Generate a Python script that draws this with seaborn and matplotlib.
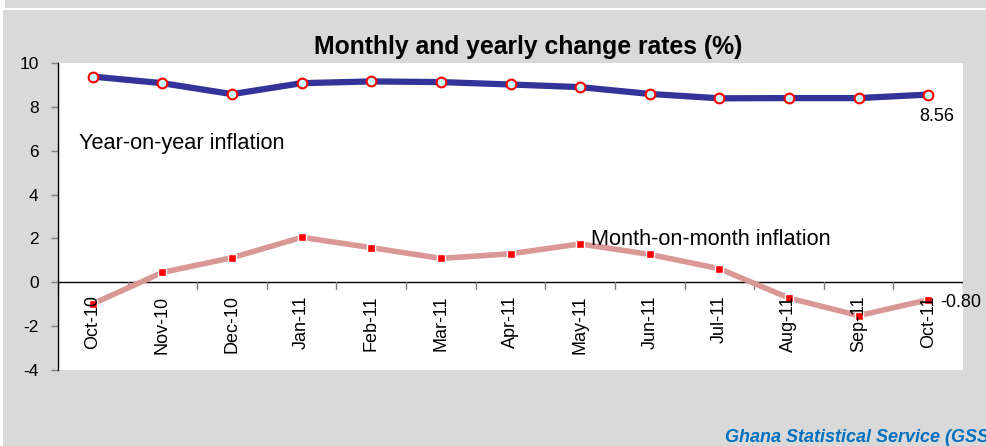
import numpy as np
import pandas as pd
import matplotlib
matplotlib.use("Agg")
import matplotlib.pyplot as plt
import seaborn as sns
from matplotlib.patches import Rectangle

# data
months = ["Oct-10", "Nov-10", "Dec-10", "Jan-11", "Feb-11", "Mar-11", "Apr-11",
          "May-11", "Jun-11", "Jul-11", "Aug-11", "Sep-11", "Oct-11"]
yoy = [9.38, 9.08, 8.58, 9.08, 9.16, 9.13, 9.02, 8.90, 8.59, 8.39, 8.40, 8.40, 8.56]
mom = [-0.98, 0.45, 1.12, 2.05, 1.58, 1.09, 1.30, 1.75, 1.27, 0.62, -0.72, -1.52, -0.80]

df = pd.DataFrame({"month": months, "yoy": yoy, "mom": mom})
df["pos"] = np.arange(len(months))

sns.set_style("white")
plt.rcParams["font.family"] = ["Liberation Sans", "DejaVu Sans"]
plt.rcParams["text.color"] = "black"
plt.rcParams["ytick.labelcolor"] = "black"
plt.rcParams["axes.unicode_minus"] = False

GRAY = "#d9d9d9"
fig = plt.figure(figsize=(9.87, 4.46), dpi=100, facecolor="white")
# gray panel background with thin white line near the top
fig.patches.append(Rectangle((3 / 987, 0), 1, 1 - 10 / 446, transform=fig.transFigure,
                             facecolor=GRAY, edgecolor="none", zorder=-5))
fig.patches.append(Rectangle((5 / 987, 1 - 8 / 446), 1, 8 / 446, transform=fig.transFigure,
                             facecolor=GRAY, edgecolor="none", zorder=-5))

ax = fig.add_axes([58 / 987, 1 - 370 / 446, 905 / 987, 307 / 446])
ax.set_zorder(1)
ax.set_facecolor("white")

# year-on-year line
sns.lineplot(data=df, x="pos", y="yoy", ax=ax, color="#333399", linewidth=4.5,
             marker="o", markersize=7, markerfacecolor="#ccffff",
             markeredgecolor="red", markeredgewidth=1.5, zorder=3)
# month-on-month line
sns.lineplot(data=df, x="pos", y="mom", ax=ax, color="#d99795", linewidth=4,
             marker="s", markersize=6, markerfacecolor="red",
             markeredgecolor="white", markeredgewidth=1, zorder=3)

ax.set_xlim(-0.5, len(months) - 0.5)
ax.set_ylim(-4, 10)
ax.set_yticks(range(-4, 11, 2))
ax.tick_params(axis="y", labelsize=12.5, length=5, width=1, color="#808080",
               direction="out", left=True, pad=9)
ax.set_xlabel("")
ax.set_ylabel("")
ax.set_xticks([])

for s in ["top", "right", "bottom"]:
    ax.spines[s].set_visible(False)
ax.spines["left"].set_color("black")
ax.spines["left"].set_linewidth(1)

# x-axis drawn at zero with boundary ticks
ax.axhline(0, color="black", linewidth=1, zorder=2)
for b in np.arange(-0.5, len(months), 1):
    ax.plot([b, b], [0, -0.3], color="#808080", linewidth=1, zorder=2)
for p, m in zip(df["pos"], df["month"]):
    ax.text(p, -0.6, m, rotation=90, ha="center", va="top", fontsize=13, zorder=4)

ax.text(-0.2, 6.35, "Year-on-year inflation", fontsize=15.7, va="center")
ax.text(7.15, 1.95, "Month-on-month inflation", fontsize=15.7, va="center")
ax.text(11.87, 7.55, f"{yoy[-1]:.2f}", fontsize=13, ha="left", va="center")
ax.text(12.18, -0.9, f"{mom[-1]:.2f}", fontsize=13, ha="left", va="center", clip_on=False)

fig.text(528 / 987, 1 - 47 / 446, "Monthly and yearly change rates (%)", fontsize=17.8,
         fontweight="bold", ha="center", va="center")
fig.text(725 / 987, 1 - 437 / 446, "Ghana Statistical Service (GSS)", fontsize=13,
         fontweight="bold", style="italic", color="#0070c0", ha="left", va="center")

fig.savefig("out.png", dpi=100, facecolor=fig.get_facecolor())
